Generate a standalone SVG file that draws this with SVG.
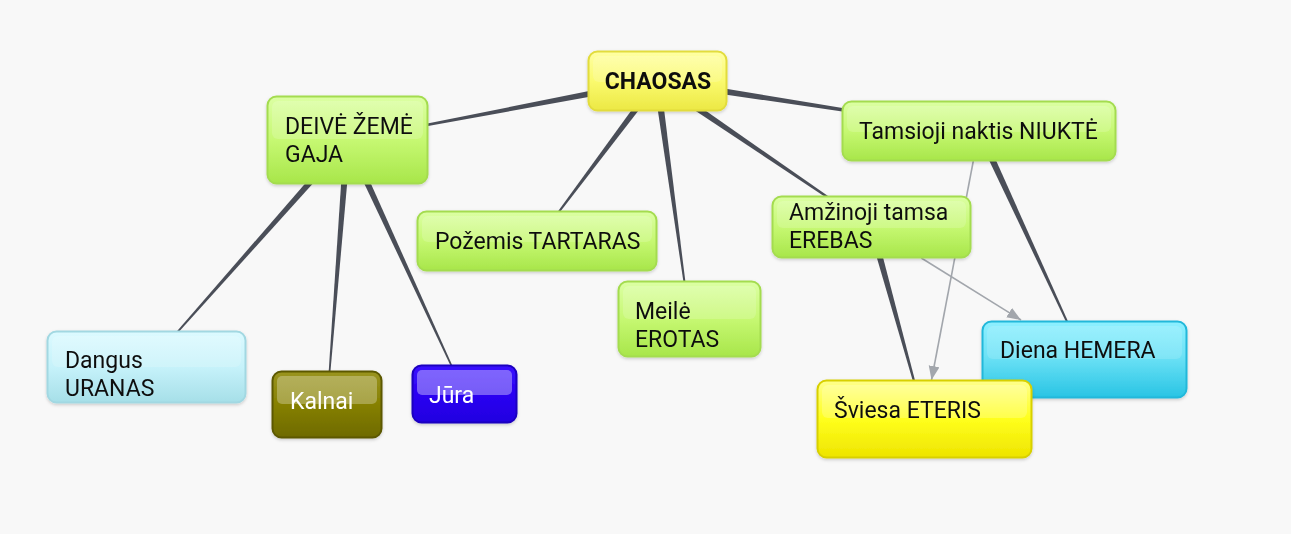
<svg xmlns="http://www.w3.org/2000/svg" width="1291" height="534" viewBox="0 0 1291 534">
  <defs>
    <style>
      .t { font-family: Roboto, "Noto Sans", "Liberation Sans", sans-serif; font-size: 23px; fill: #111; }
      .tb { font-weight: bold; }
      .tw { fill: #ffffff; }
      .wedge { fill: #4a4e58; }
      .arrow { stroke: #a2a6ac; stroke-width: 1.6; fill: none; marker-end: url(#ah); }
      .hl { fill: #ffffff; opacity: 0.16; }
    </style>
    <marker id="ah" markerUnits="userSpaceOnUse" markerWidth="15" markerHeight="12" refX="14" refY="5.5" orient="auto">
      <path d="M0,0 L14,5.5 L0,11 z" fill="#a2a6ac"/>
    </marker>
    <filter id="sh" x="-10%" y="-10%" width="120%" height="130%">
      <feDropShadow dx="0" dy="1.5" stdDeviation="1.5" flood-color="#000" flood-opacity="0.18"/>
    </filter>
    <linearGradient id="gGreen" x1="0" y1="0" x2="0" y2="1">
      <stop offset="0" stop-color="#dcffa4"/><stop offset="0.5" stop-color="#c6f872"/><stop offset="1" stop-color="#a8e64a"/>
    </linearGradient>
    <linearGradient id="gYel" x1="0" y1="0" x2="0" y2="1">
      <stop offset="0" stop-color="#ffffa4"/><stop offset="0.5" stop-color="#fafa6e"/><stop offset="1" stop-color="#ece844"/>
    </linearGradient>
    <linearGradient id="gSky" x1="0" y1="0" x2="0" y2="1">
      <stop offset="0" stop-color="#dcfaff"/><stop offset="0.5" stop-color="#c6f2fa"/><stop offset="1" stop-color="#a6dfe8"/>
    </linearGradient>
    <linearGradient id="gOlive" x1="0" y1="0" x2="0" y2="1">
      <stop offset="0" stop-color="#9a9420"/><stop offset="0.5" stop-color="#868000"/><stop offset="1" stop-color="#6e6a00"/>
    </linearGradient>
    <linearGradient id="gBlue" x1="0" y1="0" x2="0" y2="1">
      <stop offset="0" stop-color="#3a12ff"/><stop offset="0.5" stop-color="#2a00f2"/><stop offset="1" stop-color="#2200e0"/>
    </linearGradient>
    <linearGradient id="gCyan" x1="0" y1="0" x2="0" y2="1">
      <stop offset="0" stop-color="#8ef0ff"/><stop offset="0.45" stop-color="#6ee2f6"/><stop offset="1" stop-color="#28c4e4"/>
    </linearGradient>
    <linearGradient id="gLemon" x1="0" y1="0" x2="0" y2="1">
      <stop offset="0" stop-color="#ffff8c"/><stop offset="0.5" stop-color="#ffff1c"/><stop offset="1" stop-color="#eee400"/>
    </linearGradient>
  </defs>

  <rect x="0" y="0" width="1291" height="534" fill="#f8f8f8"/>

  <g id="connectors">
    <polygon class="wedge" points="656.35,77.56 347.41,139.51 347.59,140.49 657.66,84.44"/>
    <polygon class="wedge" points="656.46,84.46 978.92,131.49 979.08,130.51 657.54,77.54"/>
    <polygon class="wedge" points="654.2,78.9 536.6,240.7 537.4,241.3 659.8,83.1"/>
    <polygon class="wedge" points="653.53,81.47 689.0,319.07 690.0,318.93 660.47,80.53"/>
    <polygon class="wedge" points="655.03,83.89 871.22,227.41 871.78,226.59 658.97,78.11"/>
    <polygon class="wedge" points="344.88,137.68 146.13,366.67 146.87,367.33 350.12,142.32"/>
    <polygon class="wedge" points="344.01,139.73 326.50,404.46 327.50,404.54 350.99,140.27"/>
    <polygon class="wedge" points="344.32,141.47 464.05,394.21 464.95,393.79 350.68,138.53"/>
    <polygon class="wedge" points="975.82,132.47 1084.05,359.71 1084.95,359.29 982.18,129.53"/>
    <polygon class="wedge" points="868.13,227.93 924.02,419.13 924.98,418.87 874.87,226.07"/>
    <line class="arrow" x1="973.3" y1="161" x2="931.5" y2="380"/>
    <line class="arrow" x1="921.3" y1="258" x2="1021" y2="320"/>
  </g>

  <g id="node-deive" filter="url(#sh)">
    <rect x="267.5" y="96.5" width="160" height="87" rx="9" fill="url(#gGreen)" stroke="#a4dc50" stroke-width="2"/>
    <rect class="hl" x="272" y="101" width="151" height="38" rx="6"/>
    <text class="t" x="285" y="134">DEIVĖ ŽEMĖ</text>
    <text class="t" x="285" y="162">GAJA</text>
  </g>

  <g id="node-chaosas" filter="url(#sh)">
    <rect x="588.5" y="51.5" width="138" height="59" rx="9" fill="url(#gYel)" stroke="#e2dc3c" stroke-width="2"/>
    <rect class="hl" x="593" y="56" width="129" height="26" rx="6"/>
    <text class="t tb" x="658" y="89" text-anchor="middle">CHAOSAS</text>
  </g>

  <g id="node-tamsioji" filter="url(#sh)">
    <rect x="842.5" y="101.5" width="273" height="59" rx="9" fill="url(#gGreen)" stroke="#a4dc50" stroke-width="2"/>
    <rect class="hl" x="847" y="106" width="264" height="26" rx="6"/>
    <text class="t" x="859" y="139">Tamsioji naktis NIUKTĖ</text>
  </g>

  <g id="node-pozemis" filter="url(#sh)">
    <rect x="417.5" y="211.5" width="239" height="59" rx="9" fill="url(#gGreen)" stroke="#a4dc50" stroke-width="2"/>
    <rect class="hl" x="422" y="216" width="230" height="26" rx="6"/>
    <text class="t" x="435" y="249">Požemis TARTARAS</text>
  </g>

  <g id="node-amzinoji" filter="url(#sh)">
    <rect x="772.5" y="196.5" width="198" height="61" rx="9" fill="url(#gGreen)" stroke="#a4dc50" stroke-width="2"/>
    <rect class="hl" x="777" y="201" width="189" height="27" rx="6"/>
    <text class="t" x="789" y="220">Amžinoji tamsa</text>
    <text class="t" x="789" y="248">EREBAS</text>
  </g>

  <g id="node-meile" filter="url(#sh)">
    <rect x="618.5" y="281.5" width="142" height="75" rx="9" fill="url(#gGreen)" stroke="#a4dc50" stroke-width="2"/>
    <rect class="hl" x="623" y="286" width="133" height="33" rx="6"/>
    <text class="t" x="635" y="319">Meilė</text>
    <text class="t" x="635" y="347">EROTAS</text>
  </g>

  <g id="node-dangus" filter="url(#sh)">
    <rect x="47.5" y="331.5" width="198" height="71" rx="9" fill="url(#gSky)" stroke="#a2d8e2" stroke-width="2"/>
    <rect class="hl" x="52" y="336" width="189" height="31" rx="6"/>
    <text class="t" x="65" y="368">Dangus</text>
    <text class="t" x="65" y="396">URANAS</text>
  </g>

  <g id="node-kalnai" filter="url(#sh)">
    <rect x="272.5" y="371.5" width="109" height="66" rx="9" fill="url(#gOlive)" stroke="#5c5800" stroke-width="2"/>
    <rect class="hl" x="277" y="376" width="100" height="28" rx="5" style="opacity:0.28"/>
    <text class="t tw" x="290" y="409">Kalnai</text>
  </g>

  <g id="node-jura" filter="url(#sh)">
    <rect x="412.5" y="365.5" width="104" height="57" rx="9" fill="url(#gBlue)" stroke="#1c00c0" stroke-width="2"/>
    <rect class="hl" x="417" y="370" width="95" height="25" rx="5" style="opacity:0.36"/>
    <text class="t tw" x="429" y="403">Jūra</text>
  </g>

  <g id="node-diena" filter="url(#sh)">
    <rect x="982.5" y="321.5" width="204" height="76" rx="9" fill="url(#gCyan)" stroke="#20b8da" stroke-width="2"/>
    <rect class="hl" x="987" y="326" width="195" height="33" rx="6" style="opacity:0.14"/>
    <text class="t" x="1000" y="358">Diena HEMERA</text>
  </g>

  <g id="node-sviesa" filter="url(#sh)">
    <rect x="817.5" y="380.5" width="214" height="77" rx="9" fill="url(#gLemon)" stroke="#d8d000" stroke-width="2"/>
    <rect class="hl" x="822" y="385" width="205" height="33" rx="6" style="opacity:0.2"/>
    <text class="t" x="834" y="418">Šviesa ETERIS</text>
  </g>
</svg>
